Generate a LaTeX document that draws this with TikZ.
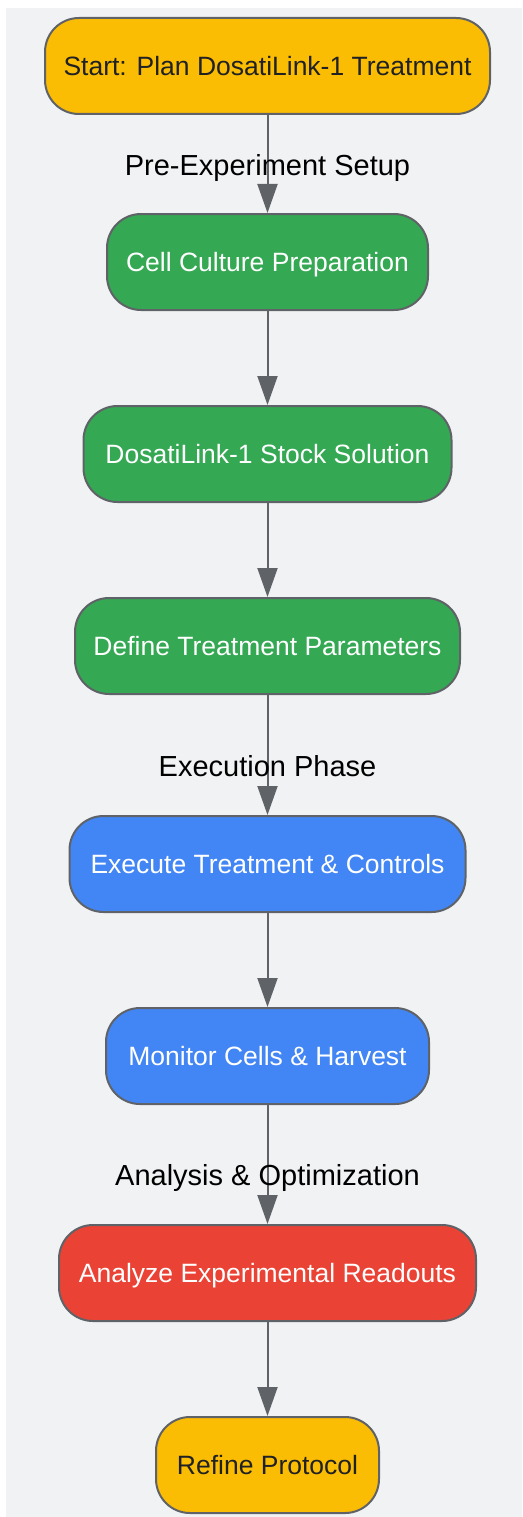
\documentclass[tikz,border=0pt]{standalone}
\usepackage{fontspec}
\setmainfont{Liberation Sans}
\usepackage{xcolor}
\usepackage{tikz}
\usetikzlibrary{arrows.meta,
                positioning,
                backgrounds}

\begin{document}
\begin{tikzpicture}[x=1pt,y=-1pt,
  box/.style={draw=edgegray,line width=2pt,rounded corners=34pt,minimum height=96pt,
              inner sep=0pt,text height=19pt,text depth=0pt,font=\fontsize{26.5}{30}\selectfont},
  phase/.style={text=black,inner sep=0pt,text height=21pt,text depth=0pt,font=\fontsize{29}{33}\selectfont},
  flow/.style={draw=edgegray,line width=2pt,-{Triangle[length=29pt,width=20pt]}}]
\definecolor{edgegray}{HTML}{5F6368}
\definecolor{bggray}{HTML}{F1F2F4} \definecolor{darktext}{HTML}{202124}
\definecolor{gyellow}{HTML}{FBBC04} \definecolor{ggreen}{HTML}{34A853}
\definecolor{gblue}{HTML}{4285F4} \definecolor{gred}{HTML}{EA4335}
\useasboundingbox (0,0) rectangle (522,1517);
\fill [bggray] (6,8) rectangle (522,1517);
\node (start) at (267.5,66) [box,fill=gyellow,text=darktext,minimum width=445pt] {Start: Plan DosatiLink-1 Treatment};
\node (culture) at (267.5,262) [box,fill=ggreen,text=white,minimum width=321pt] {Cell Culture Preparation};
\node (stock) at (267.5,454) [box,fill=ggreen,text=white,minimum width=368pt] {DosatiLink-1 Stock Solution};
\node (params) at (267.5,646) [box,fill=ggreen,text=white,minimum width=385pt] {Define Treatment Parameters};
\node (execute) at (267.5,864) [box,fill=gblue,text=white,minimum width=396pt] {Execute Treatment \& Controls};
\node (monitor) at (267.5,1056) [box,fill=gblue,text=white,minimum width=323pt] {Monitor Cells \& Harvest};
\node (analyze) at (267.5,1273) [box,fill=gred,text=white,minimum width=417pt] {Analyze Experimental Readouts};
\node (refine) at (267.5,1465) [box,fill=gyellow,text=darktext,minimum width=223pt] {Refine Protocol};
% phases
\draw [flow] (start) -- node [phase,pos=.51] {Pre-Experiment Setup} (culture);
\draw [flow] (params) -- node [phase,pos=.59] {Execution Phase} (execute);
\draw [flow] (monitor) -- node [phase,pos=.59] {Analysis \& Optimization} (analyze);
\foreach \a/\b in {culture/stock,stock/params,execute/monitor,analyze/refine}
\draw [flow] (\a) -- (\b);
\end{tikzpicture}
\end{document}
